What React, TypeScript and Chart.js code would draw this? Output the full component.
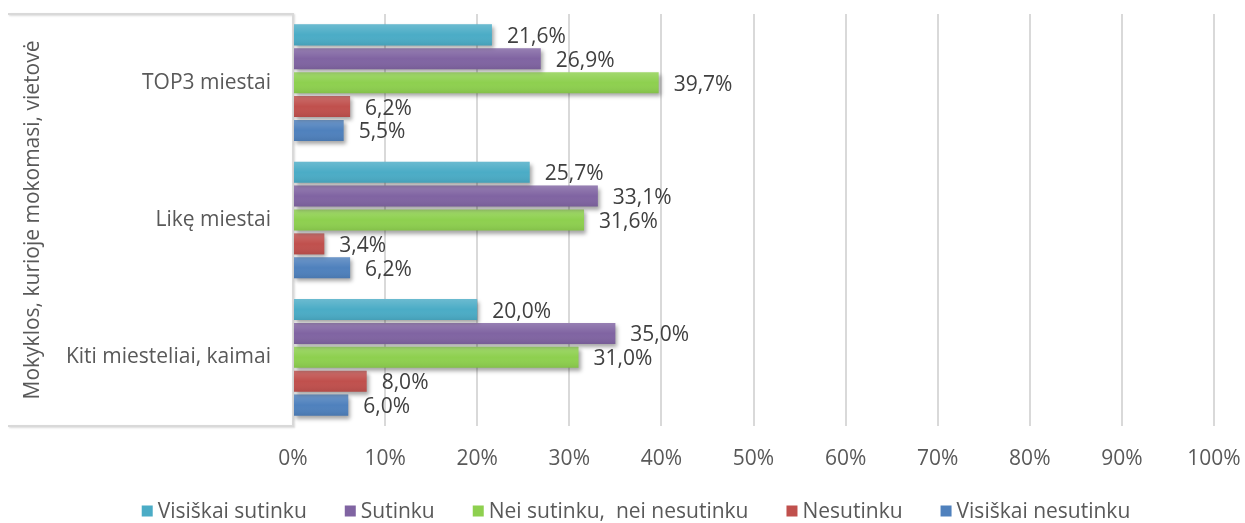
import React, { useEffect, useRef } from "react";
import { Chart, registerables } from "chart.js";

Chart.register(...registerables);

const categories = ["TOP3 miestai", "Likę miestai", "Kiti miesteliai, kaimai"];
const seriesNames = [
  "Visiškai sutinku",
  "Sutinku",
  "Nei sutinku,  nei nesutinku",
  "Nesutinku",
  "Visiškai nesutinku",
];
const visiskaiSutinku = [21.6, 25.7, 20.0];
const sutinku = [26.9, 33.1, 35.0];
const neiSutinku = [39.7, 31.6, 31.0];
const nesutinku = [6.2, 3.4, 8.0];
const visiskaiNesutinku = [5.5, 6.2, 6.0];
const seriesColors = ["#4BACC6", "#8064A2", "#8ED04F", "#C0504D", "#4F81BD"];
const xTicks = [0, 10, 20, 30, 40, 50, 60, 70, 80, 90, 100];
const axisTitle = "Mokyklos, kurioje mokomasi, vietovė";

const FONT = "'Open Sans', 'DejaVu Sans', sans-serif";
const FS = 21;
const LEGEND_FS = 21;

const shadowPlugin = {
  id: "barShadow",
  beforeDatasetsDraw(chart: any) {
    const ctx = chart.ctx;
    ctx.save();
    ctx.shadowColor = "rgba(0,0,0,0.35)";
    ctx.shadowBlur = 4;
    ctx.shadowOffsetX = 2;
    ctx.shadowOffsetY = 3;
  },
  afterDatasetsDraw(chart: any) {
    const ctx = chart.ctx;
    ctx.restore();
    chart.data.datasets.forEach((ds: any, di: number) => {
      const meta = chart.getDatasetMeta(di);
      meta.data.forEach((bar: any, i: number) => {
        const top = bar.y - bar.height / 2;
        const bottom = bar.y + bar.height / 2;
        const g = ctx.createLinearGradient(0, top, 0, bottom);
        g.addColorStop(0, "rgba(255,255,255,0.18)");
        g.addColorStop(0.5, "rgba(255,255,255,0.0)");
        g.addColorStop(1, "rgba(0,0,0,0.08)");
        ctx.save();
        ctx.fillStyle = g;
        ctx.fillRect(bar.base, top, bar.x - bar.base, bottom - top);
        ctx.restore();
        const v = ds.data[i];
        ctx.save();
        ctx.fillStyle = "#404040";
        ctx.font = `${FS}px ${FONT}`;
        ctx.textAlign = "left";
        ctx.textBaseline = "middle";
        ctx.fillText(v.toFixed(1).replace(".", ",") + "%", bar.x + 15, bar.y + 2);
        ctx.restore();
      });
    });
  },
};

const framePlugin = {
  id: "categoryFrame",
  beforeDraw(chart: any) {
    const ctx = chart.ctx;
    const a = chart.chartArea;
    ctx.save();
    ctx.strokeStyle = "#D9D9D9";
    ctx.lineWidth = 2;
    ctx.shadowColor = "rgba(0,0,0,0.15)";
    ctx.shadowBlur = 2;
    ctx.shadowOffsetX = 1;
    ctx.shadowOffsetY = 1;
    ctx.beginPath();
    ctx.moveTo(8, a.top);
    ctx.lineTo(a.left, a.top);
    ctx.lineTo(a.left, a.bottom);
    ctx.lineTo(8, a.bottom);
    ctx.stroke();
    ctx.restore();
  },
};

const legendPlugin = {
  id: "customLegend",
  afterDraw(chart: any) {
    const ctx = chart.ctx;
    const box = 11;
    const gapText = 5;
    const gapItem = 38;
    const cy = 511;
    ctx.save();
    ctx.font = `${LEGEND_FS}px ${FONT}`;
    const items = chart.data.datasets.map((ds: any) => ({
      label: ds.label,
      color: ds.backgroundColor,
      w: ctx.measureText(ds.label).width,
    }));
    const total =
      items.reduce((s: number, it: any) => s + box + gapText + it.w, 0) + gapItem * (items.length - 1);
    let x = 636 - total / 2;
    items.forEach((it: any) => {
      ctx.fillStyle = it.color;
      ctx.fillRect(x, cy - box / 2, box, box);
      ctx.fillStyle = "#595959";
      ctx.textAlign = "left";
      ctx.textBaseline = "middle";
      ctx.fillText(it.label, x + box + gapText, cy + 1);
      x += box + gapText + it.w + gapItem;
    });
    ctx.restore();
  },
};

export default function App() {
  const ref = useRef<HTMLCanvasElement | null>(null);
  useEffect(() => {
    if (!ref.current) return;
    const all = [visiskaiSutinku, sutinku, neiSutinku, nesutinku, visiskaiNesutinku];
    const chart = new Chart(ref.current, {
      type: "bar",
      data: {
        labels: categories,
        datasets: all.map((d, i) => ({
          label: seriesNames[i],
          data: d,
          backgroundColor: seriesColors[i],
          borderWidth: 0,
          categoryPercentage: 0.87,
          barPercentage: 0.88,
        })),
      },
      options: {
        indexAxis: "y",
        animation: false,
        responsive: false,
        maintainAspectRatio: false,
        layout: { padding: { top: 14, right: 31, left: 0, bottom: 50 } },
        plugins: {
          tooltip: { enabled: false },
          legend: { display: false },
        },
        scales: {
          x: {
            min: 0,
            max: 100,
            afterBuildTicks(s: any) {
              s.ticks = xTicks.map((v) => ({ value: v }));
            },
            afterFit(s: any) {
              s.height = 47;
              s.paddingLeft = 0;
              s.paddingRight = 0;
            },
            grid: { color: "#D9D9D9", lineWidth: 2, drawTicks: false },
            border: { display: false },
            ticks: {
              padding: 20,
              maxRotation: 0,
              color: "#595959",
              font: { family: FONT, size: FS },
              callback: (v: any) => v + "%",
            },
          },
          y: {
            afterFit(s: any) {
              s.width = 293;
              s.paddingTop = 0;
              s.paddingBottom = 0;
            },
            grid: { display: false, drawTicks: false },
            border: { display: true, color: "#D9D9D9", width: 2 },
            ticks: {
              padding: 22,
              color: "#595959",
              font: { family: FONT, size: FS },
            },
            title: {
              display: true,
              text: axisTitle,
              color: "#595959",
              font: { family: FONT, size: FS },
              padding: { top: 20, bottom: 0 },
            },
          },
        },
      },
      plugins: [shadowPlugin, framePlugin, legendPlugin],
    } as any);
    return () => chart.destroy();
  }, []);
  return (
    <div style={{ position: "absolute", left: 0, top: 0, width: 1245, height: 523, background: "#fff" }}>
      <canvas ref={ref} width={1245} height={523} />
    </div>
  );
}
